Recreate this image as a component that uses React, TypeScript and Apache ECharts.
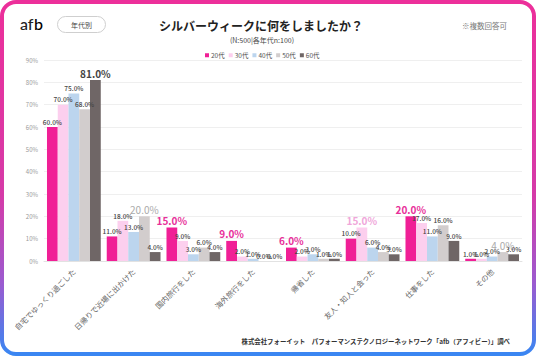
import React, { useEffect, useRef } from "react";
import * as echarts from "echarts";

const categories = [
  "自宅でゆっくり過ごした",
  "日帰りで近場に出かけた",
  "国内旅行をした",
  "海外旅行をした",
  "帰省した",
  "友人・知人と会った",
  "仕事をした",
  "その他",
];
const seriesNames = ["20代", "30代", "40代", "50代", "60代"];
const s20 = [60, 11, 15, 9, 6, 10, 20, 1];
const s30 = [70, 18, 9, 2, 2, 15, 17, 1];
const s40 = [75, 13, 3, 1, 3, 6, 11, 2];
const s50 = [68, 20, 6, 0, 1, 4, 16, 4];
const s60 = [81, 4, 4, 0, 1, 3, 9, 3];
const seriesValues = [s20, s30, s40, s50, s60];
const barColors = ["#f01f96", "#fccfee", "#bcd5ee", "#d2cdcd", "#6f6666"];
const highlightColors = ["#e8309a", "#f0a6da", "#9fc3e6", "#ababab", "#444444"];
const highlightWeights = ["bold", "bold", "bold", "normal", "bold"];
const yTicks = [0, 10, 20, 30, 40, 50, 60, 70, 80, 90];

const FONT = "'Noto Sans CJK JP', 'Noto Sans', sans-serif";

export default function App() {
  const ref = useRef<HTMLDivElement>(null);
  useEffect(() => {
    document.body.style.margin = "0";
    const chart = echarts.init(ref.current!, null, { renderer: "svg" });

    const maxIdx = categories.map((_, ci) => {
      let best = 0;
      seriesValues.forEach((vals, si) => {
        if (vals[ci] > seriesValues[best][ci]) best = si;
      });
      return best;
    });

    const series = seriesNames.map((name, si) => ({
      name,
      type: "bar",
      barGap: "0%",
      barCategoryGap: "10%",
      itemStyle: { color: barColors[si] },
      label: {
        show: true,
        position: "top",
        distance: 2,
        fontSize: 6.5,
        fontWeight: 500,
        color: "#444",
        fontFamily: FONT,
        formatter: (p: any) => Number(p.value).toFixed(1) + "%",
      },
      data: seriesValues[si].map((v, ci) =>
        maxIdx[ci] === si
          ? {
              value: v,
              label: {
                fontSize: 10,
                fontWeight: highlightWeights[si],
                color: highlightColors[si],
              },
            }
          : v
      ),
    }));

    chart.setOption({
      animation: false,
      backgroundColor: "#ffffff",
      textStyle: { fontFamily: FONT },
      grid: { left: 44, right: 14, top: 60, bottom: 95 },
      legend: {
        data: seriesNames,
        left: 200,
        top: 47,
        icon: "rect",
        itemWidth: 4,
        itemHeight: 4,
        itemGap: 4,
        textStyle: { fontSize: 6.5, color: "#555", fontFamily: FONT, padding: [0, 0, 0, -3] },
      },
      xAxis: {
        type: "category",
        data: categories,
        axisTick: { show: false },
        axisLine: { lineStyle: { color: "#e2e2e2" } },
        axisLabel: {
          rotate: 45,
          fontSize: 7.5,
          color: "#666",
          margin: 9,
          interval: 0,
          fontFamily: FONT,
        },
      },
      yAxis: {
        type: "value",
        min: yTicks[0],
        max: yTicks[yTicks.length - 1],
        interval: 10,
        axisLine: { show: false },
        axisTick: { show: false },
        splitLine: { lineStyle: { color: "#efefef" } },
        axisLabel: {
          formatter: "{value}%",
          fontSize: 6,
          color: "#999",
          margin: 6,
          fontFamily: FONT,
        },
      },
      series,
      graphic: [
        {
          type: "rect",
          silent: true,
          shape: { x: 2, y: 2, width: 532, height: 352, r: 14 },
          style: {
            fill: "none",
            lineWidth: 4,
            stroke: new echarts.graphic.LinearGradient(0, 0, 0, 1, [
              { offset: 0, color: "#ec2f9a" },
              { offset: 0.55, color: "#d53aa8" },
              { offset: 0.8, color: "#9b5bd0" },
              { offset: 1, color: "#3a86f2" },
            ]),
          },
        },
        {
          type: "text",
          left: 20,
          top: 15,
          style: {
            text: "af",
            fontSize: 16,
            fontWeight: 500,
            fontFamily: "Lato, 'Noto Sans', sans-serif",
            fill: "#222",
          },
        },
        {
          type: "text",
          left: 34,
          top: 15,
          style: {
            text: "b",
            fontSize: 16,
            fontWeight: 500,
            fontFamily: "Lato, 'Noto Sans', sans-serif",
            fill: new echarts.graphic.LinearGradient(0, 0, 1, 1, [
              { offset: 0, color: "#e8309a" },
              { offset: 1, color: "#4a7ff0" },
            ]),
          },
        },
        {
          type: "rect",
          shape: { x: 57.5, y: 16.5, width: 48, height: 16, r: 8 },
          style: { fill: "#fff", stroke: "#cfcfcf", lineWidth: 1 },
        },
        {
          type: "text",
          x: 81.5,
          y: 24.5,
          style: {
            text: "年代別",
            fontSize: 7,
            fill: "#444",
            align: "center",
            verticalAlign: "middle",
            fontFamily: FONT,
          },
        },
        {
          type: "text",
          x: 261,
          y: 25,
          style: {
            text: "シルバーウィークに何をしましたか？",
            fontSize: 12,
            fontWeight: "bold",
            fill: "#222",
            align: "center",
            verticalAlign: "middle",
            fontFamily: FONT,
          },
        },
        {
          type: "text",
          x: 262,
          y: 39.5,
          style: {
            text: "(N:500|各年代n:100)",
            fontSize: 7,
            fill: "#444",
            align: "center",
            verticalAlign: "middle",
            fontFamily: FONT,
          },
        },
        {
          type: "text",
          x: 507,
          y: 25,
          style: {
            text: "※複数回答可",
            fontSize: 7.5,
            fill: "#777",
            align: "right",
            verticalAlign: "middle",
            fontFamily: FONT,
          },
        },
        {
          type: "text",
          x: 510,
          y: 341,
          style: {
            text: "株式会社フォーイット　パフォーマンステクノロジーネットワーク「afb（アフィビー）」調べ",
            fontSize: 6.4,
            fontWeight: "bold",
            fill: "#333",
            align: "right",
            verticalAlign: "middle",
            fontFamily: FONT,
          },
        },
      ],
    });
    return () => chart.dispose();
  }, []);
  return <div ref={ref} style={{ width: 536, height: 356 }} />;
}
